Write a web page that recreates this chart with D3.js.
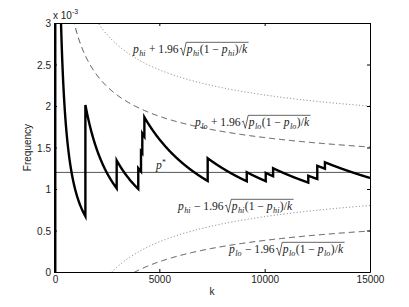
<!DOCTYPE html>
<html>
<head>
<meta charset="utf-8">
<script src="https://cdn.jsdelivr.net/npm/d3@7"></script>
<style>
  body { margin: 0; background: #fff; }
  svg { display: block; }
  .tick text { font-family: "Liberation Sans", Arial, sans-serif; font-size: 10px; fill: #222; }
</style>
</head>
<body>
<svg id="chart" width="409" height="307"></svg>
<script>
// values (frequency in absolute units, axis shows x 10^-3)
const pStar = 1.2e-3;
const pHi = 1.4e-3;
const pLo = 1.0e-3;
// k at which an event was counted (duplicates = two events at about the same k)
const eventK = [60, 1490, 1490, 2975, 4000, 4130, 4192, 4290, 7295, 7295, 9150, 10050, 10400, 12070, 12497, 12497, 12860];
const kMax = 15000;
const xTicks = [0, 5000, 10000, 15000];
const yTicks = [0, 0.5e-3, 1e-3, 1.5e-3, 2e-3, 2.5e-3, 3e-3];
const yTickLabels = ["0", "0.5", "1", "1.5", "2", "2.5", "3"];

const svg = d3.select("#chart");
const margin = { left: 54, top: 23, right: 39, bottom: 35 };
const W = 409, H = 307;
const x = d3.scaleLinear().domain([0, kMax]).range([margin.left, W - margin.right]);
const y = d3.scaleLinear().domain([0, 3e-3]).range([H - margin.bottom, margin.top]);

svg.append("defs").append("clipPath").attr("id", "clip")
  .append("rect")
  .attr("x", x(0)).attr("y", y(3e-3))
  .attr("width", x(kMax) - x(0)).attr("height", y(0) - y(3e-3));

const plot = svg.append("g").attr("clip-path", "url(#clip)");

// confidence bound curves
const ks = d3.range(20, kMax + 1, 20);
const half = (p, k) => 1.96 * Math.sqrt(p * (1 - p) / k);
const bounds = [
  { p: pHi, sign: 1, dash: "1,2.3", color: "#555" },
  { p: pHi, sign: -1, dash: "1,2.3", color: "#555" },
  { p: pLo, sign: 1, dash: "6,4", color: "#222" },
  { p: pLo, sign: -1, dash: "6,4", color: "#222" }
];
const line = d3.line().x(d => x(d[0])).y(d => y(d[1]));
bounds.forEach(b => {
  plot.append("path")
    .datum(ks.map(k => [k, b.p + b.sign * half(b.p, k)]))
    .attr("d", line)
    .attr("fill", "none")
    .attr("stroke", b.color)
    .attr("stroke-width", 0.8)
    .attr("stroke-dasharray", b.dash);
});

// p* line
plot.append("line")
  .attr("x1", x(0)).attr("x2", x(kMax))
  .attr("y1", y(pStar)).attr("y2", y(pStar))
  .attr("stroke", "#555").attr("stroke-width", 1);

// running frequency n/k
const freq = [[1, 0]];
let n = 0;
let prevK = 1;
eventK.forEach(k => {
  // decay n/k between events
  for (let kk = prevK + 10; kk < k; kk += 10) freq.push([kk, n / kk]);
  freq.push([k, n / k]);
  n += 1;
  freq.push([k, n / k]);
  prevK = k;
});
for (let kk = prevK + 10; kk <= kMax; kk += 10) freq.push([kk, n / kk]);
freq.push([kMax, n / kMax]);

plot.append("path")
  .datum(freq)
  .attr("d", line)
  .attr("fill", "none")
  .attr("stroke", "#000")
  .attr("stroke-width", 2.4)
  .attr("stroke-linejoin", "miter");

// axes with inward ticks, box
const xAxis = d3.axisBottom(x).tickValues(xTicks).tickFormat(d3.format("d"))
  .tickSizeInner(-3).tickSizeOuter(0).tickPadding(5);
const yAxis = d3.axisLeft(y).tickValues(yTicks).tickFormat((d, i) => yTickLabels[i])
  .tickSizeInner(-3).tickSizeOuter(0).tickPadding(3);
const gx = svg.append("g").attr("transform", `translate(0,${y(0)})`).call(xAxis);
const gy = svg.append("g").attr("transform", `translate(${x(0)},0)`).call(yAxis);
svg.append("g").attr("transform", `translate(0,${y(3e-3)})`)
  .call(d3.axisTop(x).tickValues(xTicks).tickSizeInner(-3).tickSizeOuter(0).tickFormat(""));
svg.append("g").attr("transform", `translate(${x(kMax)},0)`)
  .call(d3.axisRight(y).tickValues(yTicks).tickSizeInner(-3).tickSizeOuter(0).tickFormat(""));
svg.selectAll(".domain").attr("stroke", "#000");
svg.selectAll(".tick line").attr("stroke", "#000");
gx.selectAll(".tick text").attr("dy", "0.6em");
gx.selectAll(".tick text").filter(d => d === 0).attr("dx", "1");
gy.selectAll(".tick text").attr("dy", "0.35em");

const sans = "'Liberation Sans', Arial, sans-serif";
// exponent
const ex = svg.append("text").attr("x", 53).attr("y", 19)
  .attr("font-family", sans).attr("font-size", 10).attr("fill", "#222");
ex.append("tspan").text("x 10");
ex.append("tspan").attr("font-size", 7).attr("dy", -5).text("-3");

svg.append("text").attr("x", x(7500)).attr("y", 295)
  .attr("text-anchor", "middle").attr("font-family", sans).attr("font-size", 10).attr("fill", "#222")
  .text("k");
svg.append("text")
  .attr("transform", `translate(31,${(y(0) + y(3e-3)) / 2}) rotate(-90)`)
  .attr("text-anchor", "middle").attr("font-family", sans).attr("font-size", 10).attr("fill", "#222")
  .text("Frequency");

// math labels
const serif = "'Liberation Serif', 'DejaVu Serif', serif";
function mathLabel(parts, x0, y0, size) {
  const g = svg.append("g");
  let cx = x0;
  let rootStart = null;
  parts.forEach(p => {
    if (p.root === "open") {
      rootStart = cx + size * 0.1;
      cx += size * 0.7;
      return;
    }
    if (p.root === "close") {
      const top = y0 - size * 0.92;
      g.append("path")
        .attr("d", `M${rootStart},${y0 - size * 0.35} L${rootStart + size * 0.13},${y0 - size * 0.42} L${rootStart + size * 0.3},${y0 + size * 0.2} L${rootStart + size * 0.55},${top} L${cx + 1},${top}`)
        .attr("fill", "none").attr("stroke", "#222").attr("stroke-width", 0.7);
      cx += 1;
      return;
    }
    const t = g.append("text")
      .attr("x", cx).attr("y", y0 + (p.sub ? size * 0.25 : 0))
      .attr("font-family", serif)
      .attr("font-size", p.sub ? size * 0.7 : size)
      .attr("font-style", p.i ? "italic" : "normal")
      .attr("fill", "#222")
      .attr("xml:space", "preserve")
      .text(p.t);
    cx += t.node().getComputedTextLength() + (p.i ? size * 0.04 : 0);
  });
  return g;
}
function boundParts(sub, op) {
  return [
    { t: "p", i: 1 }, { t: sub, i: 1, sub: 1 }, { t: ` ${op} 1.96` }, { root: "open" },
    { t: "p", i: 1 }, { t: sub, i: 1, sub: 1 }, { t: "(1 − " }, { t: "p", i: 1 }, { t: sub, i: 1, sub: 1 },
    { t: ")/" }, { t: "k", i: 1 }, { root: "close" }
  ];
}
const mSize = 11.6;
mathLabel(boundParts("hi", "+"), 133, 53, mSize);
mathLabel(boundParts("lo", "+"), 195, 126, mSize);
mathLabel(boundParts("hi", "−"), 178, 210, mSize);
mathLabel(boundParts("lo", "−"), 229, 253, mSize);
const ps = svg.append("text").attr("x", 156).attr("y", 169)
  .attr("font-family", serif).attr("font-size", mSize).attr("font-style", "italic").attr("fill", "#222");
ps.append("tspan").text("p");
ps.append("tspan").attr("font-size", 7.5).attr("dy", -4).text("*");
</script>
</body>
</html>
